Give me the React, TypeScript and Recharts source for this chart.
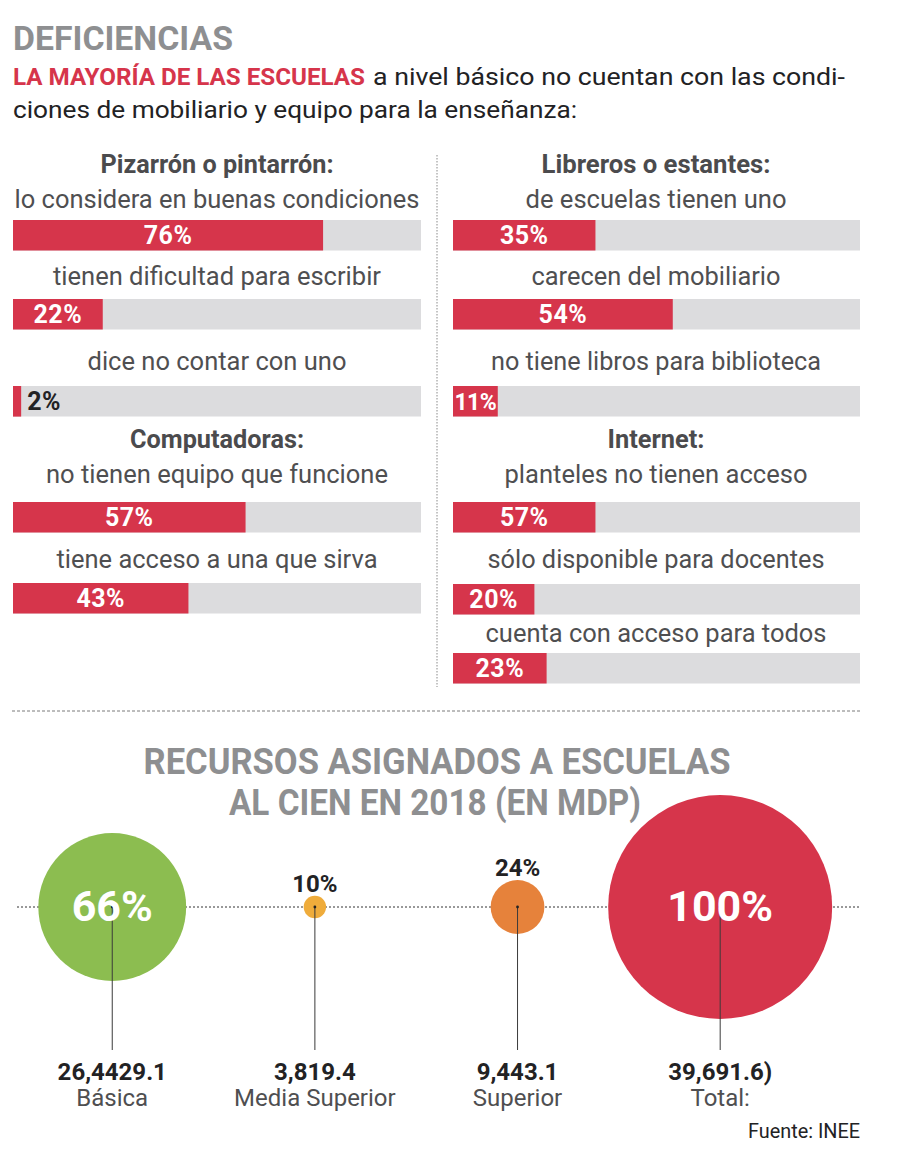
import React from "react";
import { BarChart, Bar, XAxis, YAxis, LabelList, ScatterChart, Scatter, ZAxis, ReferenceLine } from "recharts";

const FONT = "Roboto, 'Noto Sans', 'DejaVu Sans', sans-serif";
const RED = "#d6354b";
const TRACK = "#dcdcde";
const TITLE_GRAY = "#8e8f91";
const BODY = "#4f4f51";
const INK = "#222224";

// ---------------- data ----------------
const headline = "DEFICIENCIAS";
const leadRed = "LA MAYORÍA DE LAS ESCUELAS";
const leadRest1 = "a nivel básico no cuentan con las condi-";
const leadRest2 = "ciones de mobiliario y equipo para la enseñanza:";

const pizarronTitle = "Pizarrón o pintarrón:";
const pizarronLabels = ["lo considera en buenas condiciones", "tienen dificultad para escribir", "dice no contar con uno"];
const pizarronValues = [76, 22, 2];
const pizarronShown = ["76%", "22%", "2%"];

const computadorasTitle = "Computadoras:";
const computadorasLabels = ["no tienen equipo que funcione", "tiene acceso a una que sirva"];
const computadorasValues = [57, 43];
const computadorasShown = ["57%", "43%"];

const librerosTitle = "Libreros o estantes:";
const librerosLabels = ["de escuelas tienen uno", "carecen del mobiliario", "no tiene libros para biblioteca"];
const librerosValues = [35, 54, 11];
const librerosShown = ["35%", "54%", "11%"];

const internetTitle = "Internet:";
const internetLabels = ["planteles no tienen acceso", "sólo disponible para docentes", "cuenta con acceso para todos"];
const internetValues = [35, 20, 23]; // bar lengths as printed
const internetShown = ["57%", "20%", "23%"];

const recursosTitle1 = "RECURSOS ASIGNADOS A ESCUELAS";
const recursosTitle2 = "AL CIEN EN 2018 (EN MDP)";
const levels = ["Básica", "Media Superior", "Superior", "Total:"];
const amounts = ["26,4429.1", "3,819.4", "9,443.1", "39,691.6)"];
const shares = [66, 10, 24, 100];
const bubbleColors = ["#8cbd50", "#efac3b", "#e6823b", "#d6354b"];
const source = "Fuente: INEE";

// ---------------- layout ----------------
const COLS: any = { left: { x: 13, w: 408, c: 217 }, right: { x: 453, w: 407, c: 656 } };
const groups = [
  { col: "left", title: pizarronTitle, labels: pizarronLabels, values: pizarronValues, shown: pizarronShown,
    titleY: 173, titleW: 233, labelY: [208, 285, 370], labelW: [405, 328, 259], barY: [218, 297, 384] },
  { col: "left", title: computadorasTitle, labels: computadorasLabels, values: computadorasValues, shown: computadorasShown,
    titleY: 448, titleW: 174, labelY: [483, 568], labelW: [342, 321], barY: [500, 581] },
  { col: "right", title: librerosTitle, labels: librerosLabels, values: librerosValues, shown: librerosShown,
    titleY: 173, titleW: 229, labelY: [208, 285, 370], labelW: [261, 249, 330], barY: [218, 297, 384] },
  { col: "right", title: internetTitle, labels: internetLabels, values: internetValues, shown: internetShown,
    titleY: 448, titleW: 97, labelY: [483, 568, 642], labelW: [303, 337, 341], barY: [500, 582, 651] },
];
const BAR_H = 34;

const renderBarLabel = (p: any) => {
  const x = Number(p.x), y = Number(p.y), w = Number(p.width), h = Number(p.height);
  const fits = w >= 40;
  const tight = fits && w < 55;
  return (
    <text
      x={fits ? x + w / 2 : x + w + 6}
      y={y + h / 2 + 9}
      textAnchor={fits ? "middle" : "start"}
      fill={fits ? "#ffffff" : INK}
      fontFamily={FONT}
      fontWeight={700}
      fontSize={tight ? 23 : 25}
      letterSpacing={tight ? -0.5 : 0.5}
    >
      {p.value}
    </text>
  );
};

function BarRow({ value, shown, width }: { value: number; shown: string; width: number }) {
  const data = [{ name: "r", value, shown }];
  return (
    <BarChart width={width} height={BAR_H} data={data} layout="vertical" margin={{ top: 0, right: 0, bottom: 0, left: 0 }} barCategoryGap={0}>
      <XAxis type="number" domain={[0, 100]} hide />
      <YAxis type="category" dataKey="name" hide />
      <Bar dataKey="value" fill={RED} background={{ fill: TRACK }} barSize={BAR_H} isAnimationActive={false}>
        <LabelList dataKey="shown" content={renderBarLabel} />
      </Bar>
    </BarChart>
  );
}

const bubbleData = levels.map((level, i) => ({
  idx: i,
  y: 0,
  level,
  amount: amounts[i],
  share: shares[i],
  area: shares[i] * shares[i],
  color: bubbleColors[i],
}));

const BubbleShape = (props: any) => {
  const { cx, cy, payload } = props;
  const r = props.width ? props.width / 2 : Math.sqrt((props.size || 0) / Math.PI);
  const inside = r > 40;
  return (
    <g>
      <circle cx={cx} cy={cy} r={r} fill={payload.color} />
      <line x1={cx} y1={cy} x2={cx} y2={cy + 143} stroke="#3a3a3a" strokeWidth={1} />
      <circle cx={cx} cy={cy} r={1.4} fill="#222" />
      {inside ? (
        <text x={cx} y={cy + 14} textAnchor="middle" fill="#ffffff" fontFamily={FONT} fontWeight={700} fontSize={43}>
          {payload.share}%
        </text>
      ) : (
        <text x={cx} y={cy - r - 4} textAnchor="middle" fill={INK} fontFamily={FONT} fontWeight={700} fontSize={24}>
          {payload.share}%
        </text>
      )}
      <text x={cx} y={cy + 173} textAnchor="middle" fill={INK} fontFamily={FONT} fontWeight={700} fontSize={24}>
        {payload.amount}
      </text>
      <text x={cx} y={cy + 199} textAnchor="middle" fill={BODY} fontFamily={FONT} fontSize={24}>
        {payload.level}
      </text>
    </g>
  );
};

export default function App() {
  const texts: any[] = [];
  groups.forEach((g, gi) => {
    const col = COLS[g.col];
    texts.push(
      <text key={`t${gi}`} x={col.c} y={g.titleY} textAnchor="middle" fill="#4b4b4d" fontWeight={700} fontSize={25}
        textLength={g.titleW} lengthAdjust="spacingAndGlyphs">{g.title}</text>
    );
    g.labels.forEach((lab, li) => {
      texts.push(
        <text key={`l${gi}-${li}`} x={col.c} y={g.labelY[li]} textAnchor="middle" fill={BODY} fontSize={25}
          textLength={g.labelW[li]} lengthAdjust="spacingAndGlyphs">{lab}</text>
      );
    });
  });

  return (
    <div style={{ position: "absolute", left: 0, top: 0, width: 900, height: 1155, background: "#ffffff", fontFamily: FONT }}>
      <svg width={900} height={1155} style={{ position: "absolute", left: 0, top: 0 }} fontFamily={FONT}>
        <text x={13} y={50} fill={TITLE_GRAY} fontWeight={700} fontSize={33} textLength={220} lengthAdjust="spacingAndGlyphs">{headline}</text>
        <text x={13} y={85} fill={RED} fontWeight={700} fontSize={24} textLength={352} lengthAdjust="spacingAndGlyphs">{leadRed}</text>
        <text x={373} y={85} fill={INK} fontSize={24} textLength={472} lengthAdjust="spacingAndGlyphs">{leadRest1}</text>
        <text x={13} y={118} fill={INK} fontSize={24} textLength={564} lengthAdjust="spacingAndGlyphs">{leadRest2}</text>
        {texts}
        <line x1={437} y1={155} x2={437} y2={687} stroke="#8a8a8a" strokeWidth={1} strokeDasharray="1.5 1.5" />
        <line x1={12} y1={711} x2={860} y2={711} stroke="#7a7a7a" strokeWidth={1} strokeDasharray="3 2" />
        <text x={437} y={774} textAnchor="middle" fill={TITLE_GRAY} fontWeight={700} fontSize={36} textLength={587} lengthAdjust="spacingAndGlyphs">{recursosTitle1}</text>
        <text x={435} y={815} textAnchor="middle" fill={TITLE_GRAY} fontWeight={700} fontSize={36} textLength={412} lengthAdjust="spacingAndGlyphs">{recursosTitle2}</text>
        <text x={860} y={1138} textAnchor="end" fill={INK} fontSize={20} textLength={112} lengthAdjust="spacingAndGlyphs">{source}</text>
      </svg>

      {groups.map((g, gi) => {
        const col = COLS[g.col];
        return g.values.map((v, vi) => (
          <div key={`b${gi}-${vi}`} style={{ position: "absolute", left: col.x, top: g.barY[vi] }}>
            <BarRow value={v} shown={g.shown[vi]} width={col.w} />
          </div>
        ));
      })}

      <div style={{ position: "absolute", left: 0, top: 780 }}>
        <ScatterChart width={900} height={360} margin={{ top: 0, right: 40, bottom: 106, left: 17 }}>
          <XAxis type="number" dataKey="idx" domain={[-0.47, 3.69]} hide />
          <YAxis type="number" dataKey="y" domain={[-1, 1]} hide />
          <ZAxis type="number" dataKey="area" domain={[0, 10000]} range={[0, Math.PI * 112 * 112]} />
          <Scatter data={bubbleData} shape={BubbleShape} isAnimationActive={false} />
          <ReferenceLine y={0} stroke="#333333" strokeDasharray="2 2" strokeWidth={1} />
        </ScatterChart>
      </div>
    </div>
  );
}
